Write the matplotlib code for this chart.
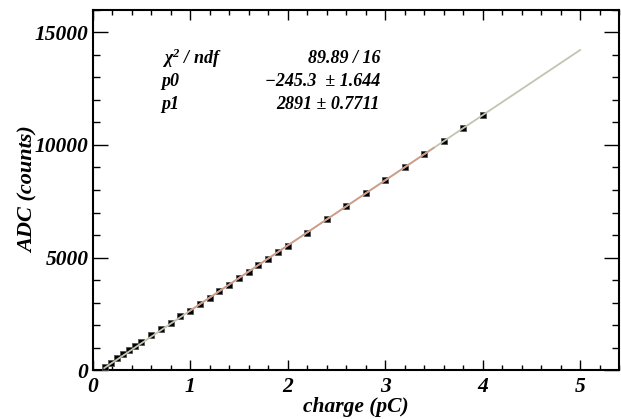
import matplotlib
matplotlib.use("Agg")
import matplotlib.pyplot as plt
from matplotlib.ticker import MultipleLocator
import numpy as np

# measured points (charge in pC, ADC counts)
charge = [0.125, 0.1875, 0.25, 0.3125, 0.375, 0.4375, 0.5,
          0.6, 0.7, 0.8, 0.9, 1.0, 1.1, 1.2, 1.3, 1.4, 1.5,
          1.6, 1.7, 1.8, 1.9, 2.0, 2.2, 2.4, 2.6, 2.8, 3.0,
          3.2, 3.4, 3.6, 3.8, 4.0]
adc = [170, 350, 540, 720, 900, 1080, 1260,
       1550, 1840, 2120, 2410, 2650, 2935, 3220, 3515, 3800, 4090,
       4380, 4670, 4960, 5250, 5535, 6115, 6695, 7270, 7850, 8430,
       9005, 9585, 10180, 10760, 11330]

# fit result
p0, p0_err = -245.3, 1.644
p1, p1_err = 2891, 0.7711
chi2, ndf = 89.89, 16
fit_range = (1.0, 3.5)
draw_range = (0.12, 5.0)

plt.rcParams["mathtext.fontset"] = "custom"
plt.rcParams["mathtext.rm"] = "Liberation Serif:bold:italic"
plt.rcParams["mathtext.it"] = "Liberation Serif:bold:italic"
plt.rcParams["mathtext.bf"] = "Liberation Serif:bold:italic"
font = dict(family="Liberation Serif", weight="bold", style="italic")

fig = plt.figure(figsize=(6.21, 4.19), dpi=100)
ax = fig.add_axes([0.149, 0.116, 0.848, 0.861])

ax.plot(charge, adc, "s", color="black", mec="#555555", mew=0.6,
        markersize=5.0, zorder=3)

# extrapolated fit function (grey) and fitted part (red), drawn over the points
xx = np.linspace(*draw_range, 200)
ax.plot(xx, p0 + p1 * xx, color="#c4c4ae", lw=1.3, zorder=4)
xf = np.linspace(*fit_range, 100)
ax.plot(xf, p0 + p1 * xf, color="#d09a88", lw=1.2, zorder=5)

ax.set_xlim(0, 5.4)
ax.set_ylim(0, 16000)
ax.xaxis.set_major_locator(MultipleLocator(1))
ax.xaxis.set_minor_locator(MultipleLocator(0.2))
ax.yaxis.set_major_locator(MultipleLocator(5000))
ax.yaxis.set_minor_locator(MultipleLocator(1000))

ax.tick_params(which="both", direction="in", top=True, right=True, width=1.0)
ax.tick_params(axis="x", which="major", length=7.5, pad=5)
ax.tick_params(axis="x", which="minor", length=3.8)
ax.tick_params(axis="y", which="major", length=11, pad=3)
ax.tick_params(axis="y", which="minor", length=5)
for sp in ax.spines.values():
    sp.set_linewidth(1.5)

for lab in ax.get_xticklabels() + ax.get_yticklabels():
    lab.set_fontfamily(font["family"])
    lab.set_fontweight("bold")
    lab.set_fontstyle("italic")
    lab.set_fontsize(15.5)

ax.set_xlabel("charge (pC)", fontsize=15.5, labelpad=0, **font)
ax.set_ylabel("ADC (counts)", fontsize=16, labelpad=-3, **font)

# stats box
rows = [("χ$^{2}$ / ndf", f"{chi2:.2f} / {ndf}"),
        ("p0", f"−{abs(p0):.1f}  ± {p0_err:.3f}"),
        ("p1", f"{p1:d} ± {p1_err:.4f}")]
for i, (name, val) in enumerate(rows):
    y = 1 - (58 + i * 23.4 - 9.5) / 361
    ax.text((161.7 - 92.5) / 526.5, y, name, transform=ax.transAxes,
            fontsize=13, va="center", ha="left", **font)
    ax.text((380 - 92.5) / 526.5, y, val, transform=ax.transAxes,
            fontsize=13, va="center", ha="right", **font)

fig.savefig("out.png", dpi=100)
